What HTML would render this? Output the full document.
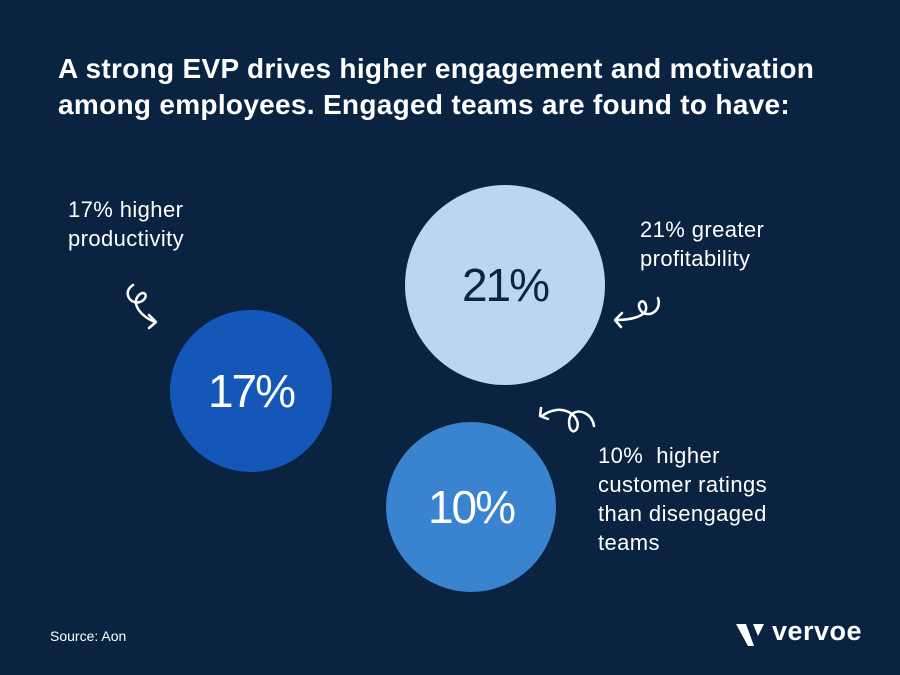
<!DOCTYPE html>
<html><head><style>
body{margin:0;width:900px;height:675px;background:#0a2340;font-family:"Liberation Sans",sans-serif;color:#fff;position:relative;overflow:hidden}
.t{position:absolute;left:58px;top:51px;font-size:28px;font-weight:bold;line-height:36px;letter-spacing:0.3px}
.l{position:absolute;font-size:22px;line-height:29px;letter-spacing:0.4px}
.c{position:absolute;border-radius:50%;display:flex;align-items:center;justify-content:center;font-size:46px;letter-spacing:-2px}
</style></head><body>
<div class="t">A strong EVP drives higher engagement and motivation<br>among employees. Engaged teams are found to have:</div>
<div class="l" style="left:68px;top:195px">17% higher<br>productivity</div>
<div class="l" style="left:640px;top:215px">21% greater<br>profitability</div>
<div class="l" style="left:598px;top:441px">10%&nbsp; higher<br>customer ratings<br>than disengaged<br>teams</div>
<div class="c" style="left:405px;top:185px;width:200px;height:200px;background:#bcd5f1;color:#0b2440">21%</div>
<div class="c" style="left:170px;top:310px;width:162px;height:162px;background:#1457b9">17%</div>
<div class="c" style="left:386px;top:422px;width:170px;height:170px;background:#3a83cf">10%</div>
<svg style="position:absolute;left:0;top:0" width="900" height="675" fill="none" stroke="#fff" stroke-width="2.5" stroke-linecap="round" stroke-linejoin="round">
<path d="M133 285 C122 292 130 305 140 302 C150 298 145 288 138 296 C132 304 140 316 155 322"/>
<path d="M149 315 L156 322 L149 328"/>
<path d="M658 298 C662 310 650 318 642 312 C634 304 644 296 646 306 C648 316 632 320 616 320"/>
<path d="M622 313 L615 320 L621 327"/>
<path d="M594 426 C592 414 580 408 572 414 C566 420 570 436 576 430 C582 422 572 408 556 410 C550 411 546 413 542 416"/>
<path d="M541 408 L540 416 L548 419"/>
</svg>
<div style="position:absolute;left:50px;top:628px;font-size:14px">Source: Aon</div>
<svg style="position:absolute;left:736px;top:622px" width="32" height="28"><polygon points="0,2 10,2 18,24 12,24" fill="#fff"/><polygon points="17,2 28,2 22,14" fill="#fff"/></svg>
<div style="position:absolute;left:772px;top:616px;font-size:27px;font-weight:bold;letter-spacing:0.5px">vervoe</div>
</body></html>
